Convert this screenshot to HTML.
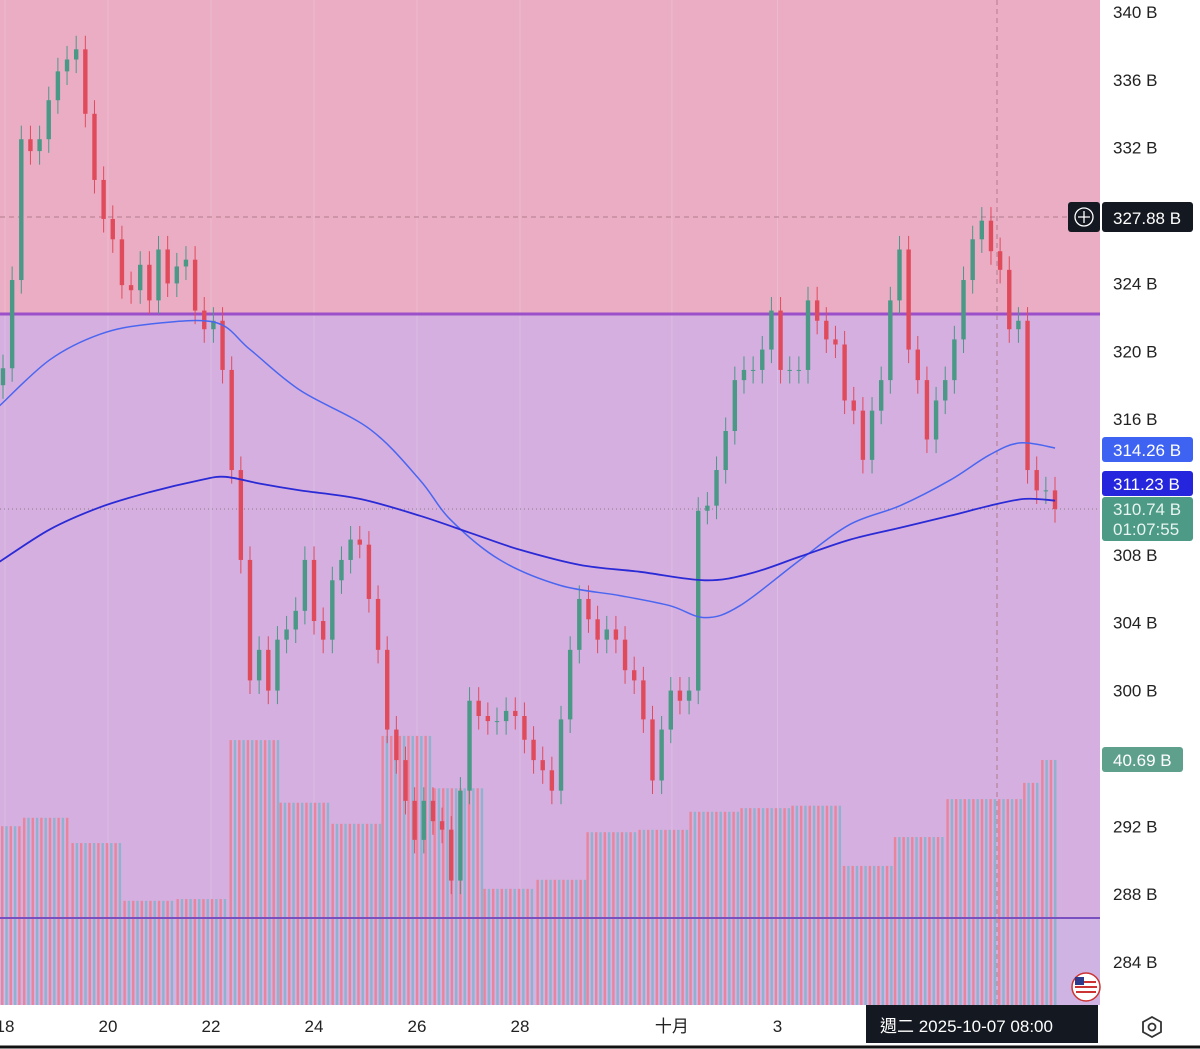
<!DOCTYPE html>
<html><head><meta charset="utf-8"><style>
html,body{margin:0;padding:0;background:#fff;width:1200px;height:1049px;overflow:hidden;font-family:"Liberation Sans","Noto Sans CJK TC",sans-serif}
svg{display:block}
</style></head><body>
<svg id="chart" width="1200" height="1049" viewBox="0 0 1200 1049" xmlns="http://www.w3.org/2000/svg">
<rect x="0" y="0" width="1100" height="314" fill="#ebadc4"/>
<rect x="0" y="314" width="1100" height="604" fill="#d5afdf"/>
<rect x="0" y="918" width="1100" height="87" fill="#cfb3e2"/>
<g id="grid"></g>
<g id="vol"></g>
<line x1="0" y1="314" x2="1100" y2="314" stroke="#9b4fc8" stroke-width="3"/>
<line x1="0" y1="918" x2="1100" y2="918" stroke="#7a4fc0" stroke-width="2"/>
<line x1="0" y1="217" x2="1100" y2="217" stroke="#b07a8c" stroke-dasharray="5,4"/>
<line x1="997" y1="0" x2="997" y2="1005" stroke="#b07a8c" stroke-dasharray="5,4"/>
<line x1="0" y1="509" x2="1100" y2="509" stroke="#8a7a8a" stroke-dasharray="1,3"/>
<g id="candles"></g>
<g id="mas"></g>
<rect x="1100" y="0" width="100" height="1005" fill="#fff"/>
<rect x="0" y="1005" width="1200" height="44" fill="#fff"/>
<g id="yticks" font-size="17" fill="#222"></g>
<g id="xticks" font-size="17" fill="#222"></g>
<g>
<rect x="1068" y="202" width="32" height="30" rx="3" fill="#141820"/>
<circle cx="1084" cy="217" r="9" fill="none" stroke="#fff" stroke-width="1.3"/>
<path d="M1084 211v12M1078 217h12" stroke="#fff" stroke-width="1.3"/>
<rect x="1102" y="202" width="91" height="30" rx="3" fill="#141820"/>
<text x="1113" y="224" font-size="17" fill="#fff">327.88 B</text>
</g>
<g><rect x="1102" y="437" width="91" height="25" rx="3" fill="#3e63f2"/><text x="1113" y="456" font-size="17" fill="#fff">314.26 B</text></g>
<g><rect x="1102" y="471" width="91" height="25" rx="3" fill="#2525dd"/><text x="1113" y="490" font-size="17" fill="#fff">311.23 B</text></g>
<g><rect x="1102" y="497" width="91" height="44" rx="3" fill="#4d9a86"/><text x="1113" y="515" font-size="17" fill="#e8f5f0">310.74 B</text><text x="1113" y="535" font-size="17" fill="#e8f5f0">01:07:55</text></g>
<g><rect x="1102" y="747" width="81" height="25" rx="3" fill="#5fa08c"/><text x="1113" y="766" font-size="17" fill="#fff">40.69 B</text></g>
<g><rect x="866" y="1005" width="232" height="38" fill="#141820"/><text x="880" y="1032" font-size="17" fill="#fff">週二 2025-10-07   08:00</text></g>
<g><circle cx="1086" cy="987" r="14" fill="#fff" stroke="#c33" stroke-width="1.5"/><path d="M1076 982h20M1075 987h22M1076 992h20" stroke="#c33" stroke-width="2"/><rect x="1075" y="977" width="9" height="8" fill="#2b3a8a"/></g>
<g><polygon points="1152,1017 1161,1022 1161,1032 1152,1037 1143,1032 1143,1022" fill="none" stroke="#333" stroke-width="1.8"/><circle cx="1152" cy="1027" r="3.5" fill="none" stroke="#333" stroke-width="1.8"/></g>
<line x1="0" y1="1047" x2="1200" y2="1047" stroke="#111" stroke-width="3"/>
</svg>
<script>
const closes=[319.0,324.2,332.5,331.8,332.5,334.8,336.5,337.2,337.8,334.0,330.1,327.8,326.6,323.9,323.6,325.1,323.0,326.0,324.0,325.0,325.4,322.4,321.3,321.8,318.9,313.0,307.7,300.6,302.4,300.0,303.0,303.6,304.7,307.7,304.1,303.0,306.5,307.7,308.9,308.6,305.4,302.4,297.7,295.9,293.5,291.2,293.5,292.3,291.8,288.8,294.1,299.4,298.5,298.2,298.2,298.8,298.5,297.1,295.9,295.3,294.1,298.3,302.4,305.4,304.2,303.0,303.6,303.0,301.2,300.6,298.3,294.7,297.7,300.0,299.4,300.0,310.6,310.9,313.0,315.3,318.3,318.9,318.9,320.1,322.4,318.9,318.9,318.9,323.0,321.8,320.7,320.4,317.1,316.5,313.6,316.5,318.3,323.0,326.0,320.1,318.3,314.8,317.1,318.3,320.7,324.2,326.6,327.7,325.9,324.8,321.3,321.8,313.0,311.8,311.8,310.7];
const volDays=[29.7,31.1,26.9,17.3,17.6,44.0,33.6,30.1,44.7,36.0,19.3,20.8,28.7,29.1,32.1,32.7,33.1,23.1,27.9,34.2,36.9,40.7];
const volDayStart=[-0.1,0.33,1.27,2.28,3.31,4.34,5.31,6.32,7.29,8.3,9.27,10.3,11.27,12.28,13.27,14.26,15.25,16.25,17.24,18.26,19.75,20.1];
const maFastT=[-0.1,0.87,1.84,2.81,4.08,4.76,5.73,7.09,8.06,8.64,9.61,10.78,11.94,12.91,13.59,14.27,15.44,16.41,17.38,18.35,19.12,19.71,20.39];
const maFastV=[316.8,319.5,321.0,321.6,321.7,320.1,317.7,315.4,312.4,310.1,307.7,306.2,305.6,305.0,304.3,305.0,307.7,309.8,310.9,312.4,313.9,314.6,314.3];
const maSlowT=[-0.1,0.87,1.84,2.81,3.78,4.27,4.95,5.73,6.89,8.06,9.03,10.0,11.17,12.33,13.59,14.47,15.44,16.41,17.38,18.35,19.12,19.80,20.39];
const maSlowV=[307.6,309.5,310.8,311.7,312.4,312.6,312.2,311.8,311.3,310.3,309.3,308.3,307.4,307.0,306.5,306.9,307.9,308.9,309.6,310.3,310.9,311.3,311.2];
const yTicks=[340,336,332,324,320,316,308,304,300,292,288,284];
const xTickLabels=["18","20","22","24","26","28","十月","3"];
const xTickDays=[0,2,4,6,8,10,12.95,15];
const NS="http://www.w3.org/2000/svg";
function y(v){return 12+(340-v)*16.964;}
function xd(d){return 5+d*51.5;}
function vy(v){return 1005-v*6.02;}
const startX=3,endX=1055,sp=(endX-startX)/(closes.length-1);
function xi(i){return startX+i*sp;}
function mk(tag,attrs,parent){const e=document.createElementNS(NS,tag);for(const k in attrs)e.setAttribute(k,attrs[k]);parent.appendChild(e);return e;}
const grid=document.getElementById('grid');
xTickDays.forEach(d=>{const l=mk('line',{x1:xd(d),x2:xd(d),y1:0,y2:1005,stroke:'rgba(255,255,255,0.18)'},grid);

});
const vol=document.getElementById('vol');
for(let k=0;k<volDays.length;k++){
 const x0=Math.max(0,xd(volDayStart[k])),x1=k+1<volDays.length?xd(volDayStart[k+1]):1058;
 let j=0;
 for(let x=x0+1;x<x1-0.5;x+=4.3,j++){
  const r=mk('rect',{x:x,y:vy(volDays[k]),width:2.4,height:1005-vy(volDays[k]),fill:(j%2?'#8fb2cf':'#e8859c')},vol);
  
  
 }
}
const cg=document.getElementById('candles');
for(let i=0;i<closes.length;i++){
 const o=i?closes[i-1]:318.0,c=closes[i];const up=c>=o;const col=up?'#4a9886':'#e04b5c';
 const hi=Math.max(o,c)+0.8,lo=Math.min(o,c)-0.8;const x=xi(i);
 const w=mk('line',{x1:x,x2:x,y1:y(hi),y2:y(lo),stroke:col,'stroke-width':1},cg);
 
 
 const b=mk('rect',{x:x-2.2,y:y(Math.max(o,c)),width:4.4,height:Math.max(1,Math.abs(y(o)-y(c))),fill:col},cg);
 
 
}
const mg=document.getElementById('mas');
function path(T,V){
 const P=T.map((t,i)=>[xd(t),y(V[i])]);
 let d='M'+P[0][0].toFixed(1)+' '+P[0][1].toFixed(1);
 for(let i=0;i<P.length-1;i++){
  const p0=P[Math.max(0,i-1)],p1=P[i],p2=P[i+1],p3=P[Math.min(P.length-1,i+2)];
  const c1=[p1[0]+(p2[0]-p0[0])/6,p1[1]+(p2[1]-p0[1])/6],c2=[p2[0]-(p3[0]-p1[0])/6,p2[1]-(p3[1]-p1[1])/6];
  d+=' C'+c1[0].toFixed(1)+' '+c1[1].toFixed(1)+' '+c2[0].toFixed(1)+' '+c2[1].toFixed(1)+' '+p2[0].toFixed(1)+' '+p2[1].toFixed(1);
 }
 return d;
}
const m1=mk('path',{d:path(maFastT,maFastV),fill:'none',stroke:'#4a66f0','stroke-width':1.5},mg);


const m2=mk('path',{d:path(maSlowT,maSlowV),fill:'none',stroke:'#2a2ad6','stroke-width':1.8},mg);


const yt=document.getElementById('yticks');
yTicks.forEach(v=>{const t=mk('text',{x:1113,y:y(v)+6},yt);t.textContent=v+' B';

});
const xt=document.getElementById('xticks');
xTickLabels.forEach((s,i)=>{const t=mk('text',{x:xd(xTickDays[i]),y:1032,'text-anchor':'middle'},xt);t.textContent=s;

});
</script>
</body></html>
